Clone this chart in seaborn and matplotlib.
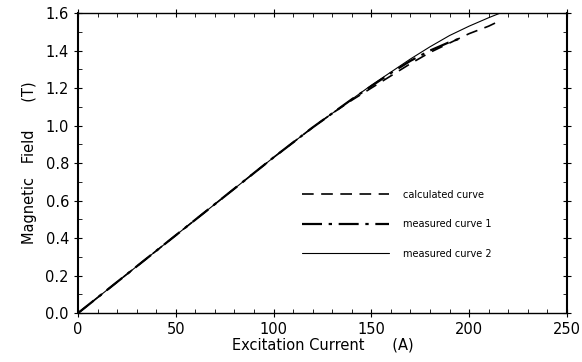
import numpy as np
import pandas as pd
import matplotlib
matplotlib.use("Agg")
import matplotlib.pyplot as plt
import seaborn as sns
from matplotlib.ticker import MultipleLocator

# ---- data ----
calc_x = [0, 50, 100, 120, 130, 140, 150, 160, 170, 180, 190, 200, 210, 215]
calc_y = [0.0, 0.415, 0.83, 0.99, 1.065, 1.135, 1.20, 1.265, 1.33, 1.39, 1.44, 1.49, 1.53, 1.555]

meas1_x = [0, 50, 100, 120, 130, 140, 150, 160, 170, 180, 190, 197]
meas1_y = [0.0, 0.415, 0.83, 0.99, 1.065, 1.14, 1.21, 1.28, 1.345, 1.40, 1.445, 1.47]

meas2_x = [0, 50, 100, 120, 130, 140, 150, 160, 170, 180, 190, 200, 210, 216]
meas2_y = [0.0, 0.415, 0.83, 0.99, 1.065, 1.14, 1.215, 1.285, 1.355, 1.42, 1.48, 1.53, 1.575, 1.60]

labels = ["calculated curve", "measured curve 1", "measured curve 2"]

sns.set_style("ticks")
plt.rcParams["font.family"] = ["DejaVu Sans"]
plt.rcParams["text.color"] = "black"
plt.rcParams["axes.labelcolor"] = "black"
plt.rcParams["xtick.color"] = "black"
plt.rcParams["ytick.color"] = "black"

fig = plt.figure(figsize=(5.82, 3.62), dpi=100)
ax = fig.add_axes([0.134, 0.135, 0.84, 0.829])

sns.lineplot(x=calc_x, y=calc_y, ax=ax, color="black", lw=1.2, label=labels[0])
ax.lines[-1].set_dashes([7, 4.5])
sns.lineplot(x=meas1_x, y=meas1_y, ax=ax, color="black", lw=1.6, label=labels[1])
ax.lines[-1].set_dashes([9, 3, 1.5, 3])
sns.lineplot(x=meas2_x, y=meas2_y, ax=ax, color="black", lw=0.8, label=labels[2])

ax.set_xlim(0, 250)
ax.set_ylim(0, 1.6)
ax.xaxis.set_major_locator(MultipleLocator(50))
ax.xaxis.set_minor_locator(MultipleLocator(10))
ax.yaxis.set_major_locator(MultipleLocator(0.2))
ax.yaxis.set_minor_locator(MultipleLocator(0.1))
ax.yaxis.set_major_formatter(matplotlib.ticker.FormatStrFormatter("%.1f"))
ax.tick_params(which="major", direction="inout", length=6, width=0.8,
               top=True, right=True, labelsize=10.5)
ax.tick_params(which="minor", direction="in", length=3, width=0.6,
               top=True, right=True)
for s in ax.spines.values():
    s.set_linewidth(1.0)
    s.set_color("black")
ax.spines["left"].set_linewidth(1.5)
ax.spines["right"].set_linewidth(1.5)

ax.set_xlabel("Excitation Current      (A)", fontsize=10.5, labelpad=0)
ax.set_ylabel("Magnetic   Field      (T)", fontsize=10.5, labelpad=6)

ax.legend(frameon=False, loc="upper left", bbox_to_anchor=(0.44, 0.44),
          fontsize=7, handlelength=9.0, handletextpad=1.4, labelspacing=2.0)

fig.savefig("out.png", dpi=100)
